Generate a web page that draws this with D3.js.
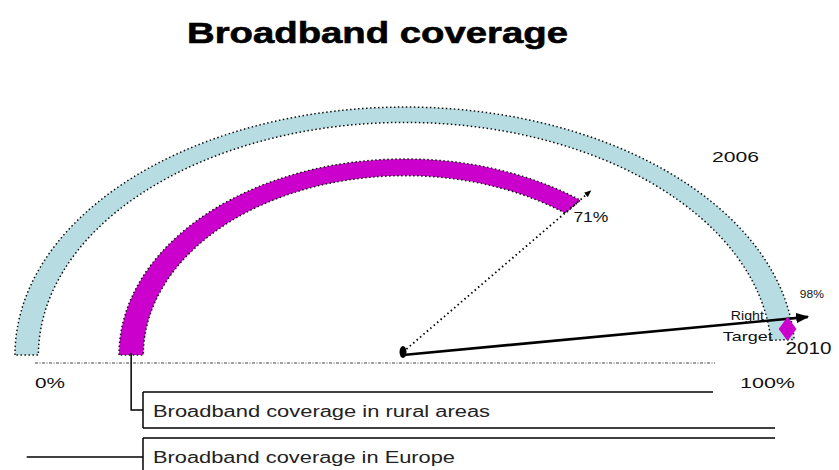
<!DOCTYPE html>
<html>
<head>
<meta charset="utf-8">
<script src="https://cdn.jsdelivr.net/npm/d3@7"></script>
<style>
  body { margin: 0; background: #fff; }
  svg { display: block; font-family: "Liberation Sans", Arial, sans-serif; }
</style>
</head>
<body>
<svg></svg>
<script>
// data
var seriesNames = ["Broadband coverage in Europe", "Broadband coverage in rural areas"];
var seriesValues = [98, 71];
var seriesYears = ["2006", ""];
var targetValue = 100;
var targetYear = "2010";
var targetLabel = ["Right", "Target"];
var tickValues = [0, 100];
var tickLabels = ["0%", "100%"];

var colors = ["#b7dde2", "#cc00cc"];

window.onload = function() {
  var svg = d3.select("svg")
    .attr("width", 839)
    .attr("height", 470);

  var cx = 405, cy = 355;
  // ellipse radii for each ring (outer), inner fraction
  var rings = [
    { rx: 390, ry: 248, inner: 0.94 },
    { rx: 286, ry: 196, inner: 0.915 }
  ];

  // value -> angle (d3.arc convention: 0 at top, clockwise)
  var angle = d3.scaleLinear().domain([0, 100]).range([-Math.PI / 2, Math.PI / 2]);

  function pointAt(v, rx, ry) {
    var a = angle(v);
    return [cx + rx * Math.sin(a), cy - ry * Math.cos(a)];
  }

  // stretched text helper, the source renders text quite wide
  function label(x, y, size, len, str) {
    return svg.append("text")
      .attr("x", x).attr("y", y)
      .attr("font-size", size)
      .attr("textLength", len).attr("lengthAdjust", "spacingAndGlyphs")
      .attr("fill", "#111")
      .text(str);
  }

  // title
  svg.append("text")
    .attr("x", 187).attr("y", 43)
    .attr("font-size", 30).attr("font-weight", "bold")
    .attr("textLength", 381).attr("lengthAdjust", "spacingAndGlyphs")
    .attr("stroke", "#000").attr("stroke-width", 0.6)
    .text("Broadband coverage");

  var defs = svg.append("defs");
  defs.append("marker")
    .attr("id", "arrow")
    .attr("viewBox", "0 0 10 10")
    .attr("refX", 9).attr("refY", 5)
    .attr("markerWidth", 5).attr("markerHeight", 5)
    .attr("orient", "auto")
    .append("path").attr("d", "M0,1 L10,5 L0,9 z").attr("fill", "#000");
  defs.append("marker")
    .attr("id", "arrowS")
    .attr("viewBox", "0 0 10 10")
    .attr("refX", 9).attr("refY", 5)
    .attr("markerWidth", 4).attr("markerHeight", 4)
    .attr("orient", "auto")
    .append("path").attr("d", "M0,1 L10,5 L0,9 z").attr("fill", "#000");

  // dotted base line
  var xLine = d3.scaleLinear().domain([0, 100]).range([cx - rings[0].rx, cx + rings[0].rx]);
  svg.append("line")
    .attr("x1", xLine(0) + 20).attr("x2", xLine(100) - 80)
    .attr("y1", cy + 8).attr("y2", cy + 8)
    .attr("stroke", "#444").attr("stroke-width", 1.2)
    .attr("stroke-dasharray", "3,1.5,1,1.5");

  // arc bands
  var arc = d3.arc().startAngle(angle(0));
  svg.selectAll("path.band")
    .data(seriesValues).enter()
    .append("path")
    .attr("class", "band")
    .attr("transform", function(d, i) {
      return "translate(" + cx + "," + cy + ") scale(" + rings[i].rx + "," + rings[i].ry + ")";
    })
    .attr("d", function(d, i) {
      return arc.innerRadius(rings[i].inner).outerRadius(1).endAngle(angle(d))();
    })
    .attr("fill", function(d, i) { return colors[i]; })
    .attr("stroke", "#111")
    .attr("stroke-width", 1.5)
    .attr("stroke-dasharray", "1.5,2.5")
    .attr("vector-effect", "non-scaling-stroke");

  // dotted arrow to the rural value
  var r1 = rings[1];
  var tip1 = pointAt(seriesValues[1], r1.rx * 1.06, r1.ry * 1.06);
  svg.append("line")
    .attr("x1", cx - 2).attr("y1", cy - 3)
    .attr("x2", tip1[0]).attr("y2", tip1[1])
    .attr("stroke", "#000").attr("stroke-width", 1.8)
    .attr("stroke-dasharray", "1.5,3")
    .attr("marker-end", "url(#arrowS)");

  var lab1 = pointAt(seriesValues[1], r1.rx * r1.inner, r1.ry * r1.inner);
  label(lab1[0] + 8, lab1[1] + 9, 14, 35, seriesValues[1] + "%");

  // target arrow and marker
  var r0 = rings[0];
  var endPt = pointAt(seriesValues[0], r0.rx * 0.97, r0.ry * 0.97);
  var tip0 = pointAt(seriesValues[0], r0.rx * 1.035, r0.ry * 1.035);
  svg.append("line")
    .attr("x1", cx - 2).attr("y1", cy)
    .attr("x2", tip0[0]).attr("y2", tip0[1] - 22)
    .attr("stroke", "#000").attr("stroke-width", 2.6)
    .attr("marker-end", "url(#arrow)");

  svg.append("path")
    .attr("d", d3.symbol().type(d3.symbolDiamond).size(190)())
    .attr("transform", "translate(" + (endPt[0] + 5) + "," + (endPt[1] - 11) + ") scale(1.2,0.95)")
    .attr("fill", colors[1]);

  label(tip0[0] - 77, tip0[1] - 19, 13, 33, targetLabel[0]);
  label(tip0[0] - 85, tip0[1] + 2, 13, 50, targetLabel[1]);
  label(tip0[0] - 8, tip0[1] - 41, 11, 24, seriesValues[0] + "%");
  label(endPt[0] + 3, endPt[1] + 14, 16, 46, targetYear);

  // year label for the outer ring
  label(712, 162, 15, 47, seriesYears[0]);

  // centre point
  svg.append("ellipse")
    .attr("cx", cx - 2).attr("cy", cy - 3)
    .attr("rx", 3.5).attr("ry", 6)
    .attr("fill", "#000");

  // tick labels
  svg.selectAll("text.tick")
    .data(tickValues).enter()
    .append("text")
    .attr("class", "tick")
    .attr("x", function(d, i) { return i === 0 ? xLine(d) + 20 : xLine(d) - 55; })
    .attr("y", cy + 33)
    .attr("font-size", 14)
    .attr("textLength", function(d, i) { return i === 0 ? 30 : 55; })
    .attr("lengthAdjust", "spacingAndGlyphs")
    .attr("fill", "#111")
    .text(function(d, i) { return tickLabels[i]; });

  // legend boxes (rural first, then Europe)
  var legendOrder = [1, 0];
  var boxX = 143;
  var boxTop = [392, 438];
  var boxH = 36;
  var topRight = [713, 775];
  var textLen = [337, 302];

  legendOrder.forEach(function(si, k) {
    var g = svg.append("g");
    var t = boxTop[k];
    g.append("line").attr("x1", boxX).attr("x2", boxX).attr("y1", t).attr("y2", t + boxH)
      .attr("stroke", "#000").attr("stroke-width", 1.5);
    g.append("line").attr("x1", boxX).attr("x2", topRight[k]).attr("y1", t).attr("y2", t)
      .attr("stroke", "#000").attr("stroke-width", 1.5);
    g.append("line").attr("x1", boxX).attr("x2", 775).attr("y1", t + boxH).attr("y2", t + boxH)
      .attr("stroke", "#000").attr("stroke-width", 1.5);
    g.append("text")
      .attr("x", boxX + 10).attr("y", t + 25)
      .attr("font-size", 16)
      .attr("textLength", textLen[k]).attr("lengthAdjust", "spacingAndGlyphs")
      .attr("fill", "#222")
      .text(seriesNames[si]);

    // connector from the ring's left foot
    var ring = rings[si];
    var footX = cx - ring.rx * (1 + ring.inner) / 2;
    var midY = t + boxH / 2;
    if (si === 1) {
      g.append("path")
        .attr("d", "M" + footX + "," + (cy - 2) + " V" + midY + " H" + boxX)
        .attr("fill", "none").attr("stroke", "#000").attr("stroke-width", 1.5);
    } else {
      g.append("line")
        .attr("x1", footX).attr("x2", boxX).attr("y1", midY + 1).attr("y2", midY + 1)
        .attr("stroke", "#000").attr("stroke-width", 1.5);
    }
  });
};
</script>
</body>
</html>
